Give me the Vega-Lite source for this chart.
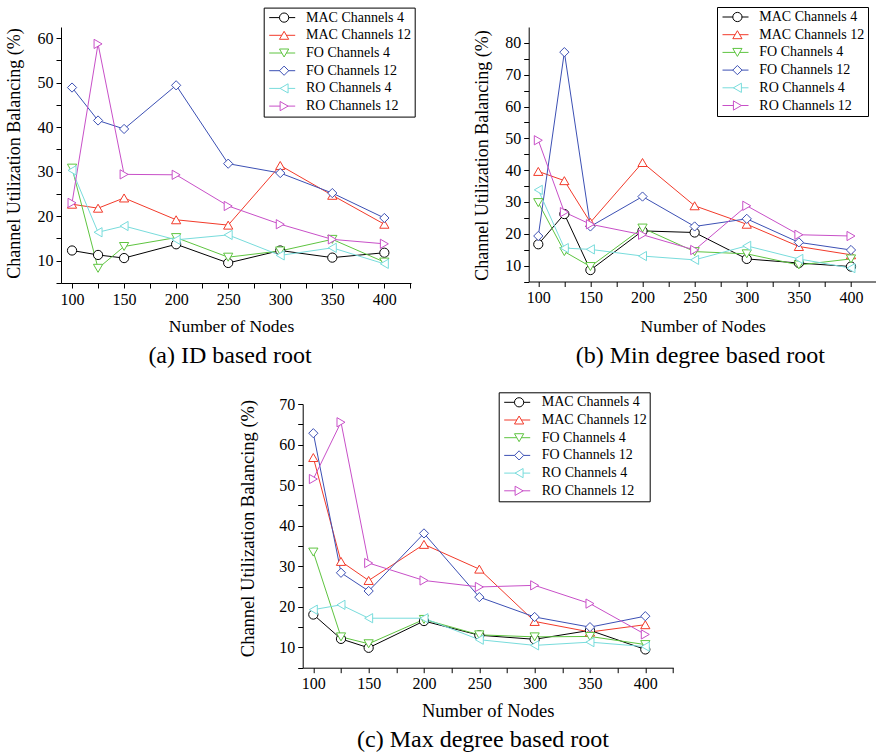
{
  "$schema": "https://vega.github.io/schema/vega-lite/v6.json",
  "background": "white",
  "padding": {"left": 5, "top": 6, "right": 0, "bottom": 0},
  "datasets": {
    "a": [
      {"n":100,"s":"MAC Channels 4","v":12.3},{"n":125,"s":"MAC Channels 4","v":11.3},{"n":150,"s":"MAC Channels 4","v":10.6},{"n":200,"s":"MAC Channels 4","v":13.7},{"n":250,"s":"MAC Channels 4","v":9.5},{"n":300,"s":"MAC Channels 4","v":12.3},{"n":350,"s":"MAC Channels 4","v":10.7},{"n":400,"s":"MAC Channels 4","v":11.8},
      {"n":100,"s":"MAC Channels 12","v":22.7},{"n":125,"s":"MAC Channels 12","v":21.8},{"n":150,"s":"MAC Channels 12","v":24.1},{"n":200,"s":"MAC Channels 12","v":19.2},{"n":250,"s":"MAC Channels 12","v":18.0},{"n":300,"s":"MAC Channels 12","v":31.4},{"n":350,"s":"MAC Channels 12","v":24.7},{"n":400,"s":"MAC Channels 12","v":18.2},
      {"n":100,"s":"FO Channels 4","v":30.8},{"n":125,"s":"FO Channels 4","v":8.3},{"n":150,"s":"FO Channels 4","v":13.2},{"n":200,"s":"FO Channels 4","v":15.2},{"n":250,"s":"FO Channels 4","v":10.8},{"n":300,"s":"FO Channels 4","v":12.2},{"n":350,"s":"FO Channels 4","v":14.8},{"n":400,"s":"FO Channels 4","v":9.7},
      {"n":100,"s":"FO Channels 12","v":48.9},{"n":125,"s":"FO Channels 12","v":41.5},{"n":150,"s":"FO Channels 12","v":39.6},{"n":200,"s":"FO Channels 12","v":49.4},{"n":250,"s":"FO Channels 12","v":31.8},{"n":300,"s":"FO Channels 12","v":29.7},{"n":350,"s":"FO Channels 12","v":25.2},{"n":400,"s":"FO Channels 12","v":19.6},
      {"n":100,"s":"RO Channels 4","v":30.3},{"n":125,"s":"RO Channels 4","v":16.4},{"n":150,"s":"RO Channels 4","v":17.8},{"n":200,"s":"RO Channels 4","v":14.7},{"n":250,"s":"RO Channels 4","v":15.8},{"n":300,"s":"RO Channels 4","v":11.2},{"n":350,"s":"RO Channels 4","v":12.9},{"n":400,"s":"RO Channels 4","v":9.3},
      {"n":100,"s":"RO Channels 12","v":23.0},{"n":125,"s":"RO Channels 12","v":58.7},{"n":150,"s":"RO Channels 12","v":29.4},{"n":200,"s":"RO Channels 12","v":29.3},{"n":250,"s":"RO Channels 12","v":22.3},{"n":300,"s":"RO Channels 12","v":18.2},{"n":350,"s":"RO Channels 12","v":14.8},{"n":400,"s":"RO Channels 12","v":13.8}
    ],
    "b": [
      {"n":100,"s":"MAC Channels 4","v":16.7},{"n":125,"s":"MAC Channels 4","v":26.2},{"n":150,"s":"MAC Channels 4","v":8.6},{"n":200,"s":"MAC Channels 4","v":20.9},{"n":250,"s":"MAC Channels 4","v":20.4},{"n":300,"s":"MAC Channels 4","v":12.1},{"n":350,"s":"MAC Channels 4","v":10.8},{"n":400,"s":"MAC Channels 4","v":9.7},
      {"n":100,"s":"MAC Channels 12","v":39.6},{"n":125,"s":"MAC Channels 12","v":36.7},{"n":150,"s":"MAC Channels 12","v":23.6},{"n":200,"s":"MAC Channels 12","v":42.4},{"n":250,"s":"MAC Channels 12","v":28.8},{"n":300,"s":"MAC Channels 12","v":23.0},{"n":350,"s":"MAC Channels 12","v":16.0},{"n":400,"s":"MAC Channels 12","v":13.4},
      {"n":100,"s":"FO Channels 4","v":29.8},{"n":125,"s":"FO Channels 4","v":14.4},{"n":150,"s":"FO Channels 4","v":9.7},{"n":200,"s":"FO Channels 4","v":21.8},{"n":250,"s":"FO Channels 4","v":14.4},{"n":300,"s":"FO Channels 4","v":13.7},{"n":350,"s":"FO Channels 4","v":10.2},{"n":400,"s":"FO Channels 4","v":12.1},
      {"n":100,"s":"FO Channels 12","v":19.3},{"n":125,"s":"FO Channels 12","v":77.1},{"n":150,"s":"FO Channels 12","v":22.3},{"n":200,"s":"FO Channels 12","v":31.7},{"n":250,"s":"FO Channels 12","v":22.3},{"n":300,"s":"FO Channels 12","v":24.7},{"n":350,"s":"FO Channels 12","v":17.3},{"n":400,"s":"FO Channels 12","v":14.9},
      {"n":100,"s":"RO Channels 4","v":33.8},{"n":125,"s":"RO Channels 4","v":15.5},{"n":150,"s":"RO Channels 4","v":15.1},{"n":200,"s":"RO Channels 4","v":13.0},{"n":250,"s":"RO Channels 4","v":11.8},{"n":300,"s":"RO Channels 4","v":16.2},{"n":350,"s":"RO Channels 4","v":12.1},{"n":400,"s":"RO Channels 4","v":9.2},
      {"n":100,"s":"RO Channels 12","v":49.4},{"n":125,"s":"RO Channels 12","v":26.8},{"n":150,"s":"RO Channels 12","v":23.0},{"n":200,"s":"RO Channels 12","v":19.7},{"n":250,"s":"RO Channels 12","v":14.9},{"n":300,"s":"RO Channels 12","v":28.8},{"n":350,"s":"RO Channels 12","v":19.7},{"n":400,"s":"RO Channels 12","v":19.3}
    ],
    "c": [
      {"n":100,"s":"MAC Channels 4","v":18.1},{"n":125,"s":"MAC Channels 4","v":12.1},{"n":150,"s":"MAC Channels 4","v":9.9},{"n":200,"s":"MAC Channels 4","v":16.5},{"n":250,"s":"MAC Channels 4","v":13.0},{"n":300,"s":"MAC Channels 4","v":12.0},{"n":350,"s":"MAC Channels 4","v":14.2},{"n":400,"s":"MAC Channels 4","v":9.5},
      {"n":100,"s":"MAC Channels 12","v":56.8},{"n":125,"s":"MAC Channels 12","v":31.2},{"n":150,"s":"MAC Channels 12","v":26.5},{"n":200,"s":"MAC Channels 12","v":35.4},{"n":250,"s":"MAC Channels 12","v":29.3},{"n":300,"s":"MAC Channels 12","v":16.4},{"n":350,"s":"MAC Channels 12","v":13.8},{"n":400,"s":"MAC Channels 12","v":15.6},
      {"n":100,"s":"FO Channels 4","v":33.5},{"n":125,"s":"FO Channels 4","v":12.6},{"n":150,"s":"FO Channels 4","v":10.9},{"n":200,"s":"FO Channels 4","v":16.9},{"n":250,"s":"FO Channels 4","v":13.1},{"n":300,"s":"FO Channels 4","v":12.6},{"n":350,"s":"FO Channels 4","v":12.7},{"n":400,"s":"FO Channels 4","v":10.7},
      {"n":100,"s":"FO Channels 12","v":62.8},{"n":125,"s":"FO Channels 12","v":28.4},{"n":150,"s":"FO Channels 12","v":23.9},{"n":200,"s":"FO Channels 12","v":38.1},{"n":250,"s":"FO Channels 12","v":22.4},{"n":300,"s":"FO Channels 12","v":17.5},{"n":350,"s":"FO Channels 12","v":15.0},{"n":400,"s":"FO Channels 12","v":17.7},
      {"n":100,"s":"RO Channels 4","v":19.3},{"n":125,"s":"RO Channels 4","v":20.5},{"n":150,"s":"RO Channels 4","v":17.2},{"n":200,"s":"RO Channels 4","v":17.2},{"n":250,"s":"RO Channels 4","v":11.9},{"n":300,"s":"RO Channels 4","v":10.5},{"n":350,"s":"RO Channels 4","v":11.3},{"n":400,"s":"RO Channels 4","v":10.2},
      {"n":100,"s":"RO Channels 12","v":51.5},{"n":125,"s":"RO Channels 12","v":65.5},{"n":150,"s":"RO Channels 12","v":30.8},{"n":200,"s":"RO Channels 12","v":26.5},{"n":250,"s":"RO Channels 12","v":24.9},{"n":300,"s":"RO Channels 12","v":25.3},{"n":350,"s":"RO Channels 12","v":20.8},{"n":400,"s":"RO Channels 12","v":13.2}
    ]
  },
  "config": {
    "font": "Liberation Serif",
    "view": {"stroke": null},
    "style": {"guide-label": {"font": "Liberation Serif"}, "guide-title": {"font": "Liberation Serif"}, "group-title": {"font": "Liberation Serif"}},
    "axis": {"labelFont": "Liberation Serif", "labelFontSize": 16, "labelColor": "#000", "titleFont": "Liberation Serif", "titleFontWeight": "normal", "titleColor": "#000", "domainColor": "#000", "tickColor": "#000", "grid": false, "tickSize": 5, "labelOverlap": false, "labelFlush": false, "labelPadding": 3},
    "legend": {"labelFont": "Liberation Serif", "labelFontSize": 14, "labelColor": "#000"},
    "title": {"font": "Liberation Serif", "fontSize": 24, "fontWeight": "normal", "color": "#000", "orient": "bottom", "anchor": "middle", "baseline": "alphabetic"}
  },
  "spacing": 23,
  "resolve": {"scale": {"x": "independent", "y": "independent", "color": "independent", "shape": "independent", "stroke": "independent"}, "legend": {"color": "independent", "shape": "independent", "stroke": "independent"}},
  "vconcat": [
    {
      "hconcat": [
        {
          "width": 350, "height": 256,
          "data": {"name": "a"},
          "title": {"text": "(a) ID based root", "dx": -6, "offset": 9, "font": "Liberation Serif"},
          "encoding": {
            "x": {"field": "n", "type": "quantitative", "scale": {"domain": [89.4, 425.6], "nice": false, "zero": false},
              "axis": {"title": "Number of Nodes", "labelFont": "Liberation Serif", "titleFont": "Liberation Serif", "titleFontSize": 17.5, "values": [100,125,150,175,200,225,250,275,300,325,350,375,400,425], "labelExpr": "datum.value % 50 == 0 ? datum.label : ''", "titleX": 170, "titleY": 48, "titleBaseline": "alphabetic"}},
            "y": {"field": "v", "type": "quantitative", "scale": {"domain": [5, 62.5], "nice": false, "zero": false},
              "axis": {"title": "Channel Utilization Balancing (%)", "labelFont": "Liberation Serif", "titleFont": "Liberation Serif", "titleFontSize": 18, "values": [5,10,15,20,25,30,35,40,45,50,55,60], "labelExpr": "datum.value % 10 == 0 ? datum.label : ''", "titleX": -41.3, "titleY": 126, "titleBaseline": "alphabetic"}}
          },
          "layer": [
            {"mark": {"type": "line", "strokeWidth": 1},
             "encoding": {"stroke": {"field": "s", "type": "nominal",
               "scale": {"domain": ["MAC Channels 4","MAC Channels 12","FO Channels 4","FO Channels 12","RO Channels 4","RO Channels 12","~"], "range": ["#000000","#f23a2a","#5ec440","#3c50b4","#78dcdc","#c850c8","#ffffff"]},
               "legend": {"title": null, "orient": "none", "legendX": 202.7, "legendY": -19.4, "values": ["MAC Channels 4","MAC Channels 12","FO Channels 4","FO Channels 12","RO Channels 4","RO Channels 12"], "symbolType": "stroke", "symbolSize": 676, "symbolStrokeWidth": 1, "clipHeight": 14, "rowPadding": 3.7, "padding": 3, "symbolOffset": 2, "labelOffset": 10.3, "strokeColor": "#000", "fillColor": "#fff", "zindex": 1}}}},
            {"mark": {"type": "point", "filled": false, "fill": "white", "size": 85, "strokeWidth": 1, "opacity": 1},
             "encoding": {
               "color": {"field": "s", "type": "nominal", "scale": {"domain": ["MAC Channels 4","MAC Channels 12","FO Channels 4","FO Channels 12","RO Channels 4","RO Channels 12"], "range": ["#000000","#f23a2a","#5ec440","#3c50b4","#78dcdc","#c850c8"]},
                 "legend": {"title": null, "orient": "none", "legendX": 202.7, "legendY": -19.4, "symbolSize": 85, "symbolStrokeWidth": 1, "clipHeight": 14, "rowPadding": 3.7, "padding": 3, "symbolOffset": 10.4, "labelExpr": "''", "labelOpacity": 0, "symbolFillColor": "white", "zindex": 2}},
               "shape": {"field": "s", "type": "nominal", "scale": {"domain": ["MAC Channels 4","MAC Channels 12","FO Channels 4","FO Channels 12","RO Channels 4","RO Channels 12"], "range": ["circle","triangle-up","triangle-down","diamond","triangle-left","triangle-right"]},
                 "legend": {"title": null, "orient": "none", "legendX": 202.7, "legendY": -19.4, "symbolSize": 85, "symbolStrokeWidth": 1, "clipHeight": 14, "rowPadding": 3.7, "padding": 3, "symbolOffset": 10.4, "labelExpr": "''", "labelOpacity": 0, "symbolFillColor": "white", "zindex": 2}}
             }}
          ]
        },
        {
          "width": 347.3, "height": 254.5,
          "data": {"name": "b"},
          "title": {"text": "(b) Min degree based root", "dx": -2, "offset": 9, "font": "Liberation Serif"},
          "encoding": {
            "x": {"field": "n", "type": "quantitative", "scale": {"domain": [90.8, 424], "nice": false, "zero": false},
              "axis": {"title": "Number of Nodes", "labelFont": "Liberation Serif", "titleFont": "Liberation Serif", "titleFontSize": 17.5, "values": [100,125,150,175,200,225,250,275,300,325,350,375,400,425], "labelExpr": "datum.value % 50 == 0 ? datum.label : ''", "titleX": 174, "titleY": 50, "titleBaseline": "alphabetic"}},
            "y": {"field": "v", "type": "quantitative", "scale": {"domain": [5, 85], "nice": false, "zero": false},
              "axis": {"title": "Channel Utilization Balancing (%)", "labelFont": "Liberation Serif", "titleFont": "Liberation Serif", "titleFontSize": 18, "values": [5,10,15,20,25,30,35,40,45,50,55,60,65,70,75,80], "labelExpr": "datum.value % 10 == 0 ? datum.label : ''", "titleX": -41.5, "titleY": 128, "titleBaseline": "alphabetic"}}
          },
          "layer": [
            {"mark": {"type": "line", "strokeWidth": 1},
             "encoding": {"stroke": {"field": "s", "type": "nominal",
               "scale": {"domain": ["MAC Channels 4","MAC Channels 12","FO Channels 4","FO Channels 12","RO Channels 4","RO Channels 12","~"], "range": ["#000000","#f23a2a","#5ec440","#3c50b4","#78dcdc","#c850c8","#ffffff"]},
               "legend": {"title": null, "orient": "none", "legendX": 188.3, "legendY": -20, "values": ["MAC Channels 4","MAC Channels 12","FO Channels 4","FO Channels 12","RO Channels 4","RO Channels 12"], "symbolType": "stroke", "symbolSize": 676, "symbolStrokeWidth": 1, "clipHeight": 14, "rowPadding": 3.7, "padding": 3, "symbolOffset": 2, "labelOffset": 10.3, "strokeColor": "#000", "fillColor": "#fff", "zindex": 1}}}},
            {"mark": {"type": "point", "filled": false, "fill": "white", "size": 85, "strokeWidth": 1, "opacity": 1},
             "encoding": {
               "color": {"field": "s", "type": "nominal", "scale": {"domain": ["MAC Channels 4","MAC Channels 12","FO Channels 4","FO Channels 12","RO Channels 4","RO Channels 12"], "range": ["#000000","#f23a2a","#5ec440","#3c50b4","#78dcdc","#c850c8"]},
                 "legend": {"title": null, "orient": "none", "legendX": 188.3, "legendY": -20, "symbolSize": 85, "symbolStrokeWidth": 1, "clipHeight": 14, "rowPadding": 3.7, "padding": 3, "symbolOffset": 10.4, "labelExpr": "''", "labelOpacity": 0, "symbolFillColor": "white", "zindex": 2}},
               "shape": {"field": "s", "type": "nominal", "scale": {"domain": ["MAC Channels 4","MAC Channels 12","FO Channels 4","FO Channels 12","RO Channels 4","RO Channels 12"], "range": ["circle","triangle-up","triangle-down","diamond","triangle-left","triangle-right"]},
                 "legend": {"title": null, "orient": "none", "legendX": 188.3, "legendY": -20, "symbolSize": 85, "symbolStrokeWidth": 1, "clipHeight": 14, "rowPadding": 3.7, "padding": 3, "symbolOffset": 10.4, "labelExpr": "''", "labelOpacity": 0, "symbolFillColor": "white", "zindex": 2}}
             }}
          ]
        }
      ],
      "bounds": "flush",
      "spacing": 117.7,
      "resolve": {"scale": {"x": "independent", "y": "independent", "color": "independent", "shape": "independent", "stroke": "independent"}, "legend": {"color": "independent", "shape": "independent", "stroke": "independent"}}
    },
    {
      "hconcat": [
        {
          "width": 123.5, "height": 10,
          "view": {"fill": "white", "stroke": null},
          "data": {"values": []},
          "mark": "point"
        },
        {
          "width": 370.6, "height": 263.7,
          "data": {"name": "c"},
          "title": {"text": "(c) Max degree based root", "dx": -5, "offset": 8, "font": "Liberation Serif"},
          "encoding": {
            "x": {"field": "n", "type": "quantitative", "scale": {"domain": [90.4, 425.3], "nice": false, "zero": false},
              "axis": {"title": "Number of Nodes", "labelFont": "Liberation Serif", "titleFont": "Liberation Serif", "titleFontSize": 18.5, "values": [100,125,150,175,200,225,250,275,300,325,350,375,400,425], "labelExpr": "datum.value % 50 == 0 ? datum.label : ''", "titleX": 185, "titleY": 49, "titleBaseline": "alphabetic"}},
            "y": {"field": "v", "type": "quantitative", "scale": {"domain": [5, 70], "nice": false, "zero": false},
              "axis": {"title": "Channel Utilization Balancing (%)", "labelFont": "Liberation Serif", "titleFont": "Liberation Serif", "titleFontSize": 18.5, "values": [5,10,15,20,25,30,35,40,45,50,55,60,65,70], "labelExpr": "datum.value % 10 == 0 ? datum.label : ''", "titleX": -48.8, "titleY": 124, "titleBaseline": "alphabetic"}}
          },
          "layer": [
            {"mark": {"type": "line", "strokeWidth": 1},
             "encoding": {"stroke": {"field": "s", "type": "nominal",
               "scale": {"domain": ["MAC Channels 4","MAC Channels 12","FO Channels 4","FO Channels 12","RO Channels 4","RO Channels 12","~"], "range": ["#000000","#f23a2a","#5ec440","#3c50b4","#78dcdc","#c850c8","#ffffff"]},
               "legend": {"title": null, "orient": "none", "legendX": 196, "legendY": -11.7, "values": ["MAC Channels 4","MAC Channels 12","FO Channels 4","FO Channels 12","RO Channels 4","RO Channels 12"], "symbolType": "stroke", "symbolSize": 676, "symbolStrokeWidth": 1, "clipHeight": 14, "rowPadding": 3.7, "padding": 3, "symbolOffset": 2, "labelOffset": 11, "strokeColor": "#000", "fillColor": "#fff", "zindex": 1}}}},
            {"mark": {"type": "point", "filled": false, "fill": "white", "size": 85, "strokeWidth": 1, "opacity": 1},
             "encoding": {
               "color": {"field": "s", "type": "nominal", "scale": {"domain": ["MAC Channels 4","MAC Channels 12","FO Channels 4","FO Channels 12","RO Channels 4","RO Channels 12"], "range": ["#000000","#f23a2a","#5ec440","#3c50b4","#78dcdc","#c850c8"]},
                 "legend": {"title": null, "orient": "none", "legendX": 196, "legendY": -11.7, "symbolSize": 85, "symbolStrokeWidth": 1, "clipHeight": 14, "rowPadding": 3.7, "padding": 3, "symbolOffset": 10.4, "labelExpr": "''", "labelOpacity": 0, "symbolFillColor": "white", "zindex": 2}},
               "shape": {"field": "s", "type": "nominal", "scale": {"domain": ["MAC Channels 4","MAC Channels 12","FO Channels 4","FO Channels 12","RO Channels 4","RO Channels 12"], "range": ["circle","triangle-up","triangle-down","diamond","triangle-left","triangle-right"]},
                 "legend": {"title": null, "orient": "none", "legendX": 196, "legendY": -11.7, "symbolSize": 85, "symbolStrokeWidth": 1, "clipHeight": 14, "rowPadding": 3.7, "padding": 3, "symbolOffset": 10.4, "labelExpr": "''", "labelOpacity": 0, "symbolFillColor": "white", "zindex": 2}}
             }}
          ]
        }
      ],
      "bounds": "flush",
      "spacing": 117.7,
      "resolve": {"scale": {"x": "independent", "y": "independent", "color": "independent", "shape": "independent", "stroke": "independent"}, "legend": {"color": "independent", "shape": "independent", "stroke": "independent"}}
    }
  ]
}
